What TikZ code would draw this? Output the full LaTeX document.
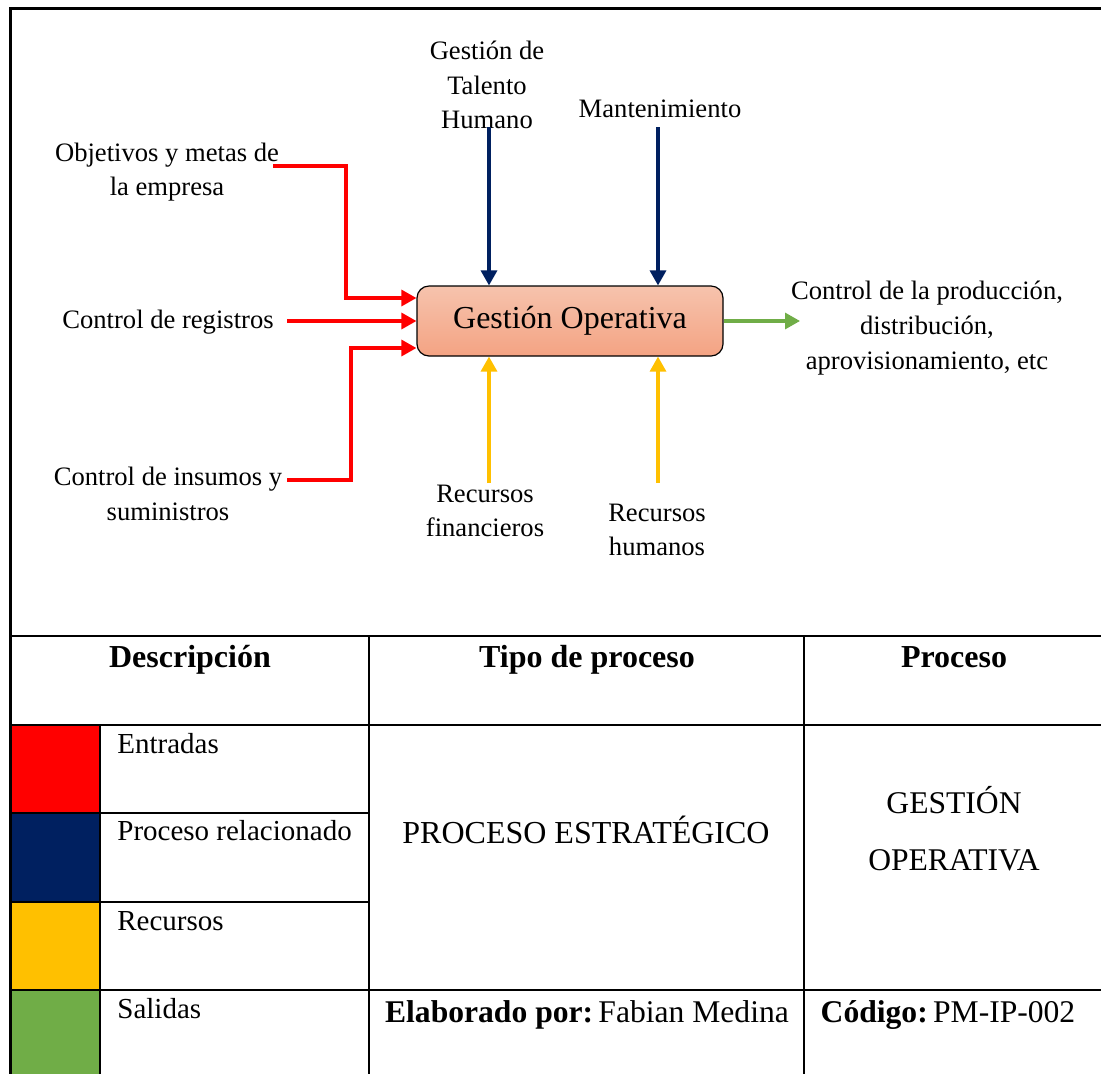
\documentclass[tikz,border=0pt]{standalone}
\usepackage{fontspec}
\setmainfont{Liberation Serif}
\usetikzlibrary{arrows.meta}

\definecolor{inred}{HTML}{FF0000}
\definecolor{procblue}{HTML}{002060}
\definecolor{resyellow}{HTML}{FFC000}
\definecolor{outgreen}{HTML}{70AD47}
\definecolor{boxtop}{HTML}{F6C3AD}
\definecolor{boxbottom}{HTML}{F4A383}

\begin{document}
\begin{tikzpicture}[x=0.5pt,y=-0.5pt,
  lbl/.style={font=\fontsize{13.3pt}{17.3pt}\selectfont, align=center, inner sep=0pt},
  flow/.style={line width=1.6pt, -{Triangle[length=7.5pt,width=8pt]}},
  inflow/.style={flow, draw=inred},
  procflow/.style={flow, draw=procblue},
  resflow/.style={flow, draw=resyellow},
  outflow/.style={flow, draw=outgreen},
  mainbox/.style={draw=black, line width=0.6pt, rounded corners=6pt,
    top color=boxtop, bottom color=boxbottom,
    minimum width=153pt, minimum height=35pt,
    font=\fontsize{16pt}{19pt}\selectfont},
  frame/.style={line width=1.5pt, draw=black},
  grid/.style={line width=1.2pt, draw=black},
  headtxt/.style={font=\fontsize{16pt}{19pt}\selectfont\bfseries, inner sep=0pt},
  legtxt/.style={font=\fontsize{14.5pt}{17pt}\selectfont, inner sep=0pt, anchor=base west},
  celltxt/.style={font=\fontsize{15.8pt}{19pt}\selectfont, inner sep=0pt, anchor=base}
]
\clip (0,0) rectangle (1101,1073);
\fill[white] (0,0) rectangle (1101,1073);

% ---------- process diagram ----------
\node[mainbox] (gest) at (570,321) {Gestión Operativa};

\node[lbl] (obj) at (167,172) {Objetivos y metas de\\la empresa};
\node[lbl] (reg) at (168,322) {Control de registros};
\node[lbl] (ins) at (168,494) {Control de insumos y\\suministros};
\node[lbl] (tal) at (487,85) {Gestión de\\Talento\\Humano};
\node[lbl] (man) at (660,109) {Mantenimiento};
\node[lbl] (recf) at (485,511) {Recursos\\financieros};
\node[lbl] (rech) at (657,530) {Recursos\\humanos};
\node[lbl] (out) at (927,328) {Control de la producción,\\distribución,\\aprovisionamiento, etc};

\coordinate (objEnd) at (273,166);
\coordinate (regEnd) at (287,321);
\coordinate (insEnd) at (287,480);
\coordinate (talEnd) at (489,127);
\coordinate (manEnd) at (658,127);
\coordinate (recfEnd) at (489,483);
\coordinate (rechEnd) at (658,483);
\coordinate (outEnd) at (800,321);

% inputs
\draw[inflow] (objEnd) -- (346,166) -- (346,298) -- ([yshift=11.5pt]gest.west);
\draw[inflow] (regEnd) -- (regEnd -| gest.west);
\draw[inflow] (insEnd) -- (351,480) -- (351,348) -- ([yshift=-13.5pt]gest.west);
% related processes
\draw[procflow] (talEnd) -- (talEnd |- gest.north);
\draw[procflow] (manEnd) -- (manEnd |- gest.north);
% resources
\draw[resflow] (recfEnd) -- (recfEnd |- gest.south);
\draw[resflow] (rechEnd) -- (rechEnd |- gest.south);
% output
\draw[outflow] (gest.east) -- (gest.east -| outEnd);

% ---------- legend table ----------
\fill[inred] (10,725) rectangle (100,813);
\fill[procblue] (10,813) rectangle (100,902);
\fill[resyellow] (10,902) rectangle (100,990);
\fill[outgreen] (10,990) rectangle (100,1080);

\draw[grid] (10,636) -- (1110,636);
\draw[grid] (10,725) -- (1110,725);
\draw[grid] (10,813) -- (369,813);
\draw[grid] (10,902) -- (369,902);
\draw[grid] (10,990) -- (1110,990);
\draw[grid] (100,725) -- (100,1080);
\draw[grid] (369,636) -- (369,1080);
\draw[grid] (804,636) -- (804,1080);

% outer frame
\draw[frame] (10,1080) -- (10,8) -- (1110,8);

\node[headtxt, anchor=base] (hdesc) at (190,667) {Descripción};
\node[headtxt, anchor=base] (htipo) at (587,667) {Tipo de proceso};
\node[headtxt, anchor=base] (hproc) at (954,667) {Proceso};

\node[legtxt] (lin) at (117,753) {Entradas};
\node[legtxt] (lproc) at (117,840) {Proceso relacionado};
\node[legtxt] (lres) at (117,930) {Recursos};
\node[legtxt] (lout) at (117,1018) {Salidas};

\node[celltxt, font=\fontsize{16pt}{19pt}\selectfont] (tipo) at (586,843) {PROCESO ESTRATÉGICO};
\node[celltxt] (proc1) at (954,813) {GESTIÓN};
\node[celltxt] (proc2) at (954,870) {OPERATIVA};
\node[celltxt] (autor) at (587,1022) {\textbf{Elaborado por:}\,Fabian Medina};
\node[celltxt] (cod) at (948,1022) {\textbf{Código:}\,PM-IP-002};
\end{tikzpicture}
\end{document}
